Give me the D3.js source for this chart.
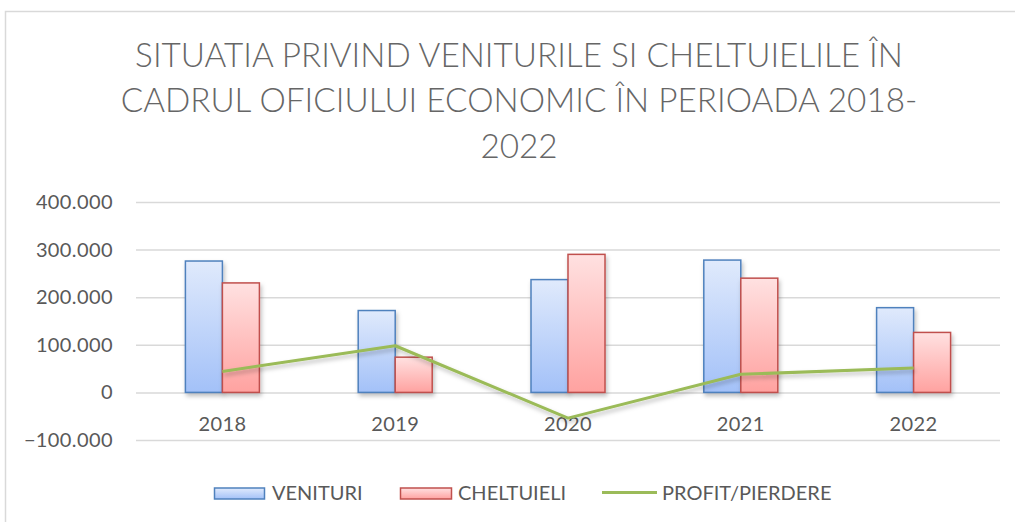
<!DOCTYPE html>
<html>
<head>
<meta charset="utf-8">
<script src="https://cdn.jsdelivr.net/npm/d3@7"></script>
<style>
  html, body { margin: 0; padding: 0; background: #fff; }
  svg { display: block; font-family: Lato, "Open Sans", sans-serif; }
</style>
</head>
<body>
<div id="chart"></div>
<script>
// data
const years = ['2018', '2019', '2020', '2021', '2022'];
const venituri = [276000, 172000, 237000, 278000, 178000];
const cheltuieli = [230000, 74000, 290000, 240000, 126000];
const profit = [44000, 98000, -54000, 38000, 51000];
const yTicks = [-100000, 0, 100000, 200000, 300000, 400000];
const titleLines = [
  'SITUATIA PRIVIND VENITURILE SI CHELTUIELILE ÎN',
  'CADRUL OFICIULUI ECONOMIC ÎN PERIOADA 2018-',
  '2022'
];

const width = 1015;
const height = 522;
const plot = { left: 136, right: 1000, top: 202, bottom: 440 };
const textColor = '#595959';

const svg = d3.select('#chart')
  .append('svg')
  .attr('width', width)
  .attr('height', height);

const defs = svg.append('defs');

// gradients for the bars
function gradient(id, top, bottom) {
  const g = defs.append('linearGradient')
    .attr('id', id)
    .attr('x1', 0).attr('y1', 0)
    .attr('x2', 0).attr('y2', 1);
  g.append('stop').attr('offset', '0%').attr('stop-color', top);
  g.append('stop').attr('offset', '100%').attr('stop-color', bottom);
}
gradient('blueGrad', '#e0eafc', '#a3c1f8');
gradient('redGrad', '#ffe1e1', '#ffa2a0');

const shadow = defs.append('filter')
  .attr('id', 'shadow')
  .attr('x', '-20%').attr('y', '-10%')
  .attr('width', '150%').attr('height', '130%');
shadow.append('feDropShadow')
  .attr('dx', 1.5).attr('dy', 3)
  .attr('stdDeviation', 2)
  .attr('flood-color', '#000')
  .attr('flood-opacity', 0.25);

// outer chart border
svg.append('rect')
  .attr('x', 5.5).attr('y', 11.5)
  .attr('width', 1100).attr('height', 600)
  .attr('fill', 'none')
  .attr('stroke', '#d9d9d9')
  .attr('stroke-width', 1.5);

// title, first line scaled to the width seen in the picture (~768px)
const title = svg.append('g');
const titleY = [67, 112, 158];
const titleSel = title.selectAll('text')
  .data(titleLines)
  .join('text')
  .attr('x', 519)
  .attr('y', (d, i) => titleY[i])
  .attr('text-anchor', 'middle')
  .attr('fill', '#666')
  .style('font-size', '30px')
  .style('font-weight', 300)
  .text((d) => d);
const firstW = titleSel.node().getComputedTextLength();
titleSel.style('font-size', (30 * 768 / firstW).toFixed(2) + 'px');

// scales
const x = d3.scaleBand()
  .domain(years)
  .range([plot.left, plot.right]);

const y = d3.scaleLinear()
  .domain([-100000, 400000])
  .range([plot.bottom, plot.top]);

const fmt = (d) => d3.format(',')(d).replace(/,/g, '.');

// gridlines + y labels
const yAxis = svg.append('g')
  .attr('transform', `translate(${plot.left},0)`)
  .call(d3.axisLeft(y)
    .tickValues(yTicks)
    .tickSize(-(plot.right - plot.left))
    .tickPadding(23)
    .tickFormat(fmt));
yAxis.select('.domain').remove();
yAxis.selectAll('.tick line')
  .attr('stroke', '#d9d9d9')
  .attr('stroke-width', 1.5);
yAxis.selectAll('.tick text')
  .attr('fill', textColor)
  .style('font-size', '20px')
  .style('letter-spacing', '0.4px')
  .style('font-family', 'Lato, sans-serif');

// bars
const barW = 37;
const groups = svg.append('g')
  .selectAll('g')
  .data(years)
  .join('g')
  .attr('transform', (d) => `translate(${x(d) + x.bandwidth() / 2},0)`);

groups.append('rect')
  .attr('x', -barW)
  .attr('y', (d, i) => y(venituri[i]))
  .attr('width', barW)
  .attr('height', (d, i) => y(0) - y(venituri[i]))
  .attr('fill', 'url(#blueGrad)')
  .attr('stroke', '#4f81bd')
  .attr('stroke-width', 1.5)
  .attr('filter', 'url(#shadow)');

groups.append('rect')
  .attr('x', 0)
  .attr('y', (d, i) => y(cheltuieli[i]))
  .attr('width', barW)
  .attr('height', (d, i) => y(0) - y(cheltuieli[i]))
  .attr('fill', 'url(#redGrad)')
  .attr('stroke', '#c0504d')
  .attr('stroke-width', 1.5)
  .attr('filter', 'url(#shadow)');

// category labels
svg.append('g')
  .selectAll('text')
  .data(years)
  .join('text')
  .attr('x', (d) => x(d) + x.bandwidth() / 2)
  .attr('y', 431)
  .attr('text-anchor', 'middle')
  .attr('fill', textColor)
  .style('font-size', '20px')
  .style('letter-spacing', '0.4px')
  .text((d) => d);

// profit line
const line = d3.line()
  .x((d, i) => x(years[i]) + x.bandwidth() / 2)
  .y((d) => y(d));

svg.append('path')
  .datum(profit)
  .attr('d', line)
  .attr('fill', 'none')
  .attr('stroke', '#9bbb59')
  .attr('stroke-width', 3)
  .attr('stroke-linejoin', 'round')
  .attr('filter', 'url(#shadow)');

// legend
const legend = svg.append('g');
legend.append('rect')
  .attr('x', 214.5).attr('y', 488)
  .attr('width', 50).attr('height', 11)
  .attr('fill', 'url(#blueGrad)')
  .attr('stroke', '#4f81bd').attr('stroke-width', 1.5);
legend.append('text')
  .attr('x', 272).attr('y', 500)
  .attr('fill', textColor).style('font-size', '20px')
  .text('VENITURI');

legend.append('rect')
  .attr('x', 400.5).attr('y', 488)
  .attr('width', 51).attr('height', 11)
  .attr('fill', 'url(#redGrad)')
  .attr('stroke', '#c0504d').attr('stroke-width', 1.5);
legend.append('text')
  .attr('x', 458).attr('y', 500)
  .attr('fill', textColor).style('font-size', '20px')
  .text('CHELTUIELI');

legend.append('line')
  .attr('x1', 602).attr('x2', 657)
  .attr('y1', 492.5).attr('y2', 492.5)
  .attr('stroke', '#9bbb59').attr('stroke-width', 3);
legend.append('text')
  .attr('x', 662).attr('y', 500)
  .attr('fill', textColor).style('font-size', '20px')
  .text('PROFIT/PIERDERE');
</script>
</body>
</html>
